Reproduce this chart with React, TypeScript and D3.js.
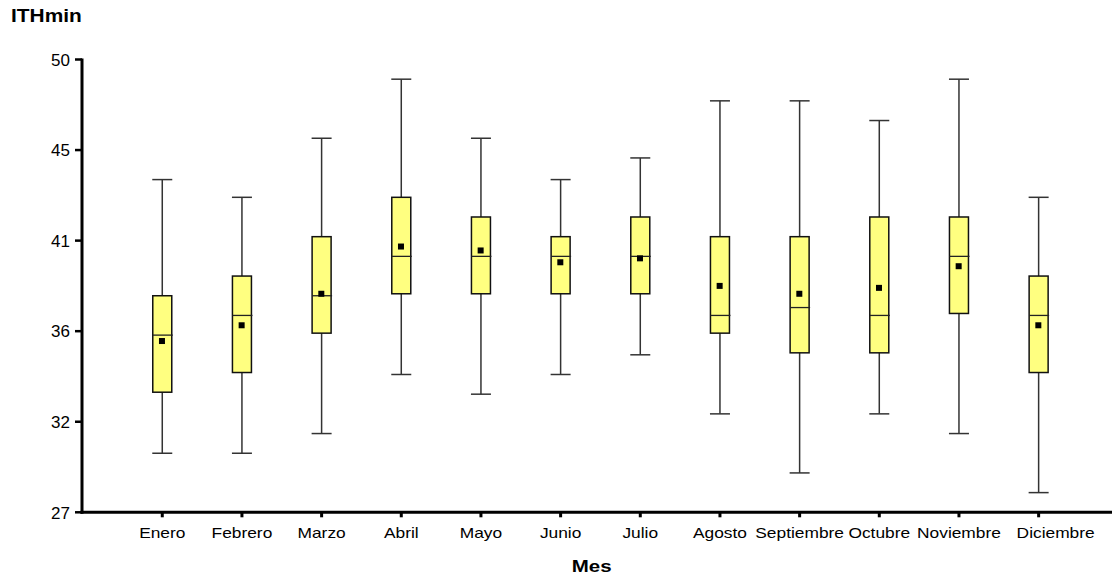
import React, { useEffect, useRef } from 'react';
import * as d3 from 'd3';

const months = ['Enero', 'Febrero', 'Marzo', 'Abril', 'Mayo', 'Junio', 'Julio', 'Agosto', 'Septiembre', 'Octubre', 'Noviembre', 'Diciembre'];
const whiskerHigh = [43.9, 43.0, 46.0, 49.0, 46.0, 43.9, 45.0, 47.9, 47.9, 46.9, 49.0, 43.0];
const q3 = [38.0, 39.0, 41.0, 43.0, 42.0, 41.0, 42.0, 41.0, 41.0, 42.0, 42.0, 39.0];
const median = [36.0, 37.0, 38.0, 40.0, 40.0, 40.0, 40.0, 37.0, 37.4, 37.0, 40.0, 37.0];
const q1 = [33.1, 34.1, 36.1, 38.1, 38.1, 38.1, 38.1, 36.1, 35.1, 35.1, 37.1, 34.1];
const whiskerLow = [30.0, 30.0, 31.0, 34.0, 33.0, 34.0, 35.0, 32.0, 29.0, 32.0, 31.0, 28.0];
const mean = [35.7, 36.5, 38.1, 40.5, 40.3, 39.7, 39.9, 38.5, 38.1, 38.4, 39.5, 36.5];
const yTickValues = [27, 31.6, 36.2, 40.8, 45.4, 50];
const yTickLabels = ['27', '32', '36', '41', '45', '50'];

const FONT = '"Liberation Sans", Arial, Helvetica, sans-serif';

const App: React.FC = () => {
  const svgRef = useRef<SVGSVGElement>(null);

  useEffect(() => {
    if (!svgRef.current) return;
    const svg = d3.select(svgRef.current);
    svg.selectAll('*').remove();

    const axisX = 82;
    const axisY = 512.3;

    const x = d3.scaleLinear().domain([0, 13]).range([82.6, 1118.3]);
    const y = d3.scaleLinear().domain([27, 50]).range([axisY, 59.5]);

    const boxHalf = 9.5;
    const capHalf = 10;

    const data = months.map((m, i) => ({
      m, i,
      hi: whiskerHigh[i], q3: q3[i], med: median[i], q1: q1[i], lo: whiskerLow[i], mean: mean[i],
    }));

    const g = svg.append('g');

    // whiskers
    const w = g.selectAll('.whisk').data(data).enter().append('g');
    w.append('line')
      .attr('x1', d => x(d.i + 1)).attr('x2', d => x(d.i + 1))
      .attr('y1', d => y(d.hi)).attr('y2', d => y(d.lo))
      .attr('stroke', '#333').attr('stroke-width', 1.5);
    w.append('line')
      .attr('x1', d => x(d.i + 1) - capHalf).attr('x2', d => x(d.i + 1) + capHalf)
      .attr('y1', d => y(d.hi)).attr('y2', d => y(d.hi))
      .attr('stroke', '#333').attr('stroke-width', 1.5);
    w.append('line')
      .attr('x1', d => x(d.i + 1) - capHalf).attr('x2', d => x(d.i + 1) + capHalf)
      .attr('y1', d => y(d.lo)).attr('y2', d => y(d.lo))
      .attr('stroke', '#333').attr('stroke-width', 1.5);

    // boxes
    g.selectAll('.box').data(data).enter().append('rect')
      .attr('x', d => x(d.i + 1) - boxHalf)
      .attr('y', d => y(d.q3))
      .attr('width', boxHalf * 2)
      .attr('height', d => y(d.q1) - y(d.q3))
      .attr('fill', '#FFFF80')
      .attr('stroke', '#111').attr('stroke-width', 1.5);

    // medians
    g.selectAll('.med').data(data).enter().append('line')
      .attr('x1', d => x(d.i + 1) - boxHalf).attr('x2', d => x(d.i + 1) + boxHalf + 1)
      .attr('y1', d => y(d.med)).attr('y2', d => y(d.med))
      .attr('stroke', '#222').attr('stroke-width', 1.3);

    // means
    g.selectAll('.mean').data(data).enter().append('rect')
      .attr('x', d => x(d.i + 1) - 3.3)
      .attr('y', d => y(d.mean) - 3)
      .attr('width', 6).attr('height', 6)
      .attr('fill', '#000');

    // y axis
    svg.append('line')
      .attr('x1', axisX).attr('x2', axisX)
      .attr('y1', y(50) - 1).attr('y2', axisY + 1.5)
      .attr('stroke', '#000').attr('stroke-width', 3);
    svg.selectAll('.ytick').data(yTickValues).enter().append('line')
      .attr('x1', axisX - 7).attr('x2', axisX)
      .attr('y1', d => y(d)).attr('y2', d => y(d))
      .attr('stroke', '#000').attr('stroke-width', 2.5);
    svg.selectAll('.ylab').data(yTickValues).enter().append('text')
      .attr('x', 70).attr('y', d => y(d) + 6.2)
      .attr('text-anchor', 'end')
      .attr('font-family', FONT).attr('font-size', 17)
      .attr('fill', '#000')
      .text((d, i) => yTickLabels[i]);

    // x axis
    svg.append('line')
      .attr('x1', axisX - 1.5).attr('x2', 1112)
      .attr('y1', axisY).attr('y2', axisY)
      .attr('stroke', '#000').attr('stroke-width', 3);
    svg.selectAll('.xtick').data(months).enter().append('line')
      .attr('x1', (d, i) => x(i + 1)).attr('x2', (d, i) => x(i + 1))
      .attr('y1', axisY).attr('y2', axisY + 5)
      .attr('stroke', '#000').attr('stroke-width', 3);
    // last label is nudged right in the original to clear its neighbour
    svg.selectAll('.xlab').data(months).enter().append('text')
      .attr('transform', (d, i) => `translate(${x(i + 1) + (i === months.length - 1 ? 17 : 0)},537.7) scale(1.24,1)`)
      .attr('text-anchor', 'middle')
      .attr('font-family', FONT).attr('font-size', 14)
      .attr('fill', '#000')
      .text(d => d);

    // titles
    svg.append('text')
      .attr('transform', 'translate(11,21.5) scale(1.13,1)')
      .attr('font-family', FONT).attr('font-size', 18.5).attr('font-weight', 'bold')
      .attr('fill', '#000')
      .text('ITHmin');
    svg.append('text')
      .attr('transform', 'translate(591.7,571.7) scale(1.28,1)')
      .attr('text-anchor', 'middle')
      .attr('font-family', FONT).attr('font-size', 16).attr('font-weight', 'bold')
      .attr('fill', '#000')
      .text('Mes');
  }, []);

  return (
    <svg
      ref={svgRef}
      width={1112}
      height={577}
      viewBox="0 0 1112 577"
      style={{ position: 'absolute', left: 0, top: 0, background: '#fff' }}
    />
  );
};

export default App;
